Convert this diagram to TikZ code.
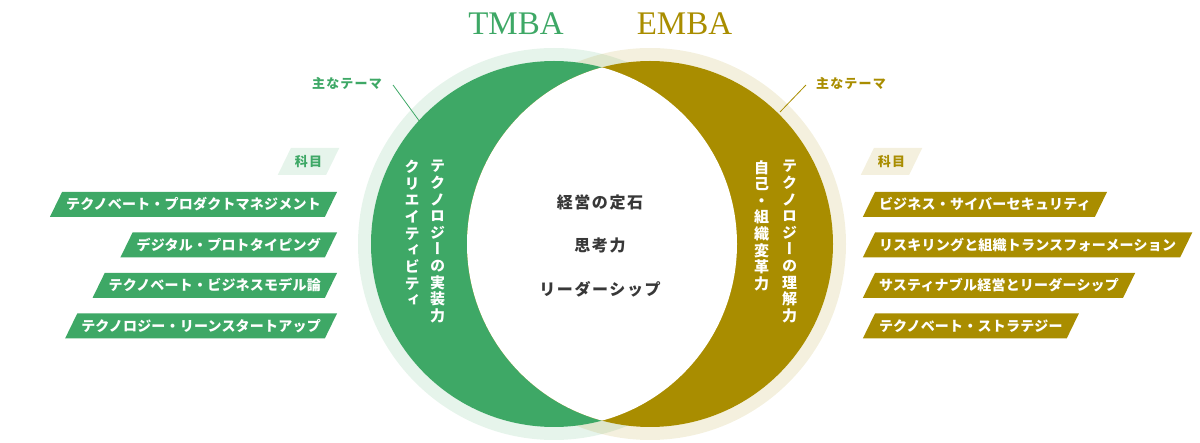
\documentclass[tikz,border=0pt]{standalone}
\usepackage{fontspec}
\setmainfont{Liberation Serif}
\newfontfamily\jp{Noto Sans CJK JP}[LetterSpace=9]
\newfontfamily\jpbarre{Noto Sans CJK JP}[LetterSpace=1.5]
\newfontfamily\jpcentre{Noto Sans CJK JP}[LetterSpace=10]
\newfontfamily\jptate{Noto Sans CJK JP}[RawFeature=+vert]
\usetikzlibrary{shapes.geometric}
\definecolor{vertT}{HTML}{3EA866}
\definecolor{orE}{HTML}{A98D00}
\definecolor{gris}{HTML}{383838}
% Texte vertical : un caractere par ligne
\ExplSyntaxOn
\NewDocumentCommand\tate{m}
  {
    \vbox:n
      {
        \baselineskip=1.11em \lineskiplimit=-10em
        \tl_map_inline:nn {#1} { \hbox_to_wd:nn {1em} { \hss ##1 \hss } }
      }
  }
\ExplSyntaxOff
\begin{document}
\begin{tikzpicture}[x=1pt,y=-1pt]
	% Styles (MODIFIABLES)
	\tikzstyle{halo}=[even odd rule,fill opacity=0.13]
	\tikzstyle{fil}=[-,line width=0.8pt]
	\tikzstyle{titre}=[anchor=base,inner sep=0pt,font=\fontsize{33}{33}\selectfont]
	\tikzstyle{theme}=[inner sep=0pt,font=\jp\bfseries\fontsize{13}{13}\selectfont]
	\tikzstyle{axe}=[inner sep=0pt,text=gris,font=\jpcentre\bfseries\fontsize{16}{16}\selectfont]
	\tikzstyle{colonne}=[anchor=north,inner sep=0pt,text=white,font=\jptate\bfseries\fontsize{15}{15}\selectfont]
	\tikzstyle{parallelo}=[trapezium,trapezium left angle=64,trapezium right angle=116,outer sep=0pt]
	\tikzstyle{rubrique}=[parallelo,inner xsep=4pt,inner ysep=7.4pt,
		text height=11pt,text depth=1.2pt,font=\jp\bfseries\fontsize{13}{13}\selectfont]
	\tikzstyle{matiere}=[parallelo,inner xsep=4pt,inner ysep=5.95pt,text=white,
		text height=11.8pt,text depth=1.3pt,font=\jpbarre\bfseries\fontsize{14}{14}\selectfont]
	% Dimensions (MODIFIABLES)
	\def\Rayon{183}
	\def\Halo{196}
	\def\HautBarre{192}
	\def\Interligne{40.5}
	\def\BordT{337}
	\def\BordE{863}
	\useasboundingbox (0,0) rectangle (1200,443);
	% Cercles
	\coordinate (cT) at (554,244);
	\coordinate (cE) at (650,244);
	\fill[halo,vertT] (cT) circle (\Halo pt) (cT) circle (\Rayon pt);
	\fill[halo,orE] (cE) circle (\Halo pt) (cE) circle (\Rayon pt);
	\fill[vertT] (cT) circle (\Rayon pt);
	\fill[orE] (cE) circle (\Rayon pt);
	\begin{scope}
		\clip (cT) circle (\Rayon pt);
		\fill[white] (cE) circle (\Rayon pt);
	\end{scope}
	% Titres
	\node[titre,text=vertT] (tmba) at (516,35) {TMBA};
	\node[titre,text=orE] (emba) at (684.5,35) {EMBA};
	% Themes
	\node[theme,text=vertT] (themeT) at (347,83) {主なテーマ};
	\node[theme,text=orE] (themeE) at (851,83) {主なテーマ};
	\coordinate (finT) at (420,122);
	\coordinate (finE) at (780,112);
	\draw[fil,vertT] ([shift={(11,2)}]themeT.east) -- (finT);
	\draw[fil,orE] ([shift={(-10,2)}]themeE.west) -- (finE);
	% Centre
	\node[axe] (c1) at (600,202) {経営の定石};
	\node[axe] (c2) at (600,245) {思考力};
	\node[axe] (c3) at (600,289) {リーダーシップ};
	% Colonnes verticales
	\node[colonne] (vT1) at (437.5,160) {\tate{テクノロジーの実装力}};
	\node[colonne] (vT2) at (412,160) {\tate{クリエイティビティ}};
	\node[colonne] (vE1) at (789.5,160) {\tate{テクノロジーの理解力}};
	\node[colonne] (vE2) at (761.5,160) {\tate{自己・組織変革力}};
	% Rubriques
	\node[rubrique,fill=vertT!13,text=vertT] (rT) at (308.5,161.5) {科目};
	\node[rubrique,fill=orE!13,text=orE] (rE) at (891.5,161.5) {科目};
	% Matieres TMBA
	\node[matiere,fill=vertT,anchor=top right corner] (mT1) at ({\BordT},{\HautBarre+0*\Interligne}) {テクノベート・プロダクトマネジメント};
	\node[matiere,fill=vertT,anchor=top right corner] (mT2) at ({\BordT},{\HautBarre+1*\Interligne}) {デジタル・プロトタイピング};
	\node[matiere,fill=vertT,anchor=top right corner] (mT3) at ({\BordT},{\HautBarre+2*\Interligne}) {テクノベート・ビジネスモデル論};
	\node[matiere,fill=vertT,anchor=top right corner] (mT4) at ({\BordT},{\HautBarre+3*\Interligne}) {テクノロジー・リーンスタートアップ};
	% Matieres EMBA
	\node[matiere,fill=orE,anchor=top left corner] (mE1) at ({\BordE+12},{\HautBarre+0*\Interligne}) {ビジネス・サイバーセキュリティ};
	\node[matiere,fill=orE,anchor=top left corner] (mE2) at ({\BordE+12},{\HautBarre+1*\Interligne}) {リスキリングと組織トランスフォーメーション};
	\node[matiere,fill=orE,anchor=top left corner] (mE3) at ({\BordE+12},{\HautBarre+2*\Interligne}) {サスティナブル経営とリーダーシップ};
	\node[matiere,fill=orE,anchor=top left corner] (mE4) at ({\BordE+12},{\HautBarre+3*\Interligne}) {テクノベート・ストラテジー};
\end{tikzpicture}
\end{document}
